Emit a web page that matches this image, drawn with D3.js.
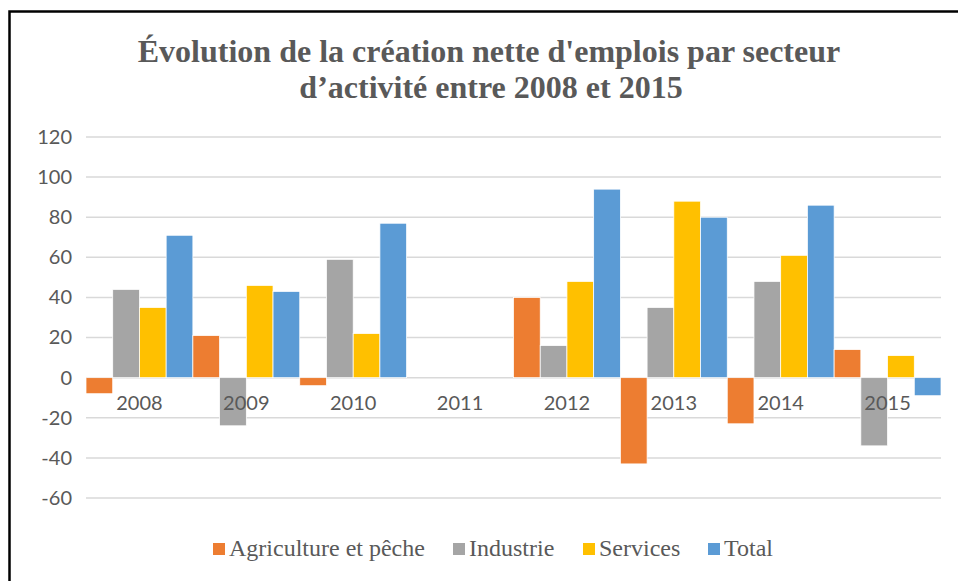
<!DOCTYPE html>
<html>
<head>
<meta charset="utf-8">
<script src="https://cdn.jsdelivr.net/npm/d3@7"></script>
<style>
    body { margin: 0; background: #fff; }
    svg { display: block; }
</style>
</head>
<body>
<script>
// chart data
const years = ["2008", "2009", "2010", "2011", "2012", "2013", "2014", "2015"];
const seriesNames = ["Agriculture et pêche", "Industrie", "Services", "Total"];
const agriculture = [-8, 21, -4, 0, 40, -43, -23, 14];
const industrie = [44, -24, 59, 0, 16, 35, 48, -34];
const services = [35, 46, 22, 0, 48, 88, 61, 11];
const total = [71, 43, 77, 0, 94, 80, 86, -9];
const yTicks = [-60, -40, -20, 0, 20, 40, 60, 80, 100, 120];
const colors = ["#ED7D31", "#A5A5A5", "#FFC000", "#5B9BD5"];

const allSeries = [agriculture, industrie, services, total];

const width = 958, height = 581;
const margin = {top: 137, right: 17, bottom: 83, left: 86};

let svg = d3.select("body").append("svg")
    .attr("width", width)
    .attr("height", height);

// frame (only top and left edges show in the crop)
svg.append("path")
    .attr("d", `M9.5,${height} V11.5 H${width}`)
    .attr("fill", "none")
    .attr("stroke", "#000")
    .attr("stroke-width", 2.5);

// title
let title = svg.append("text")
    .attr("text-anchor", "middle")
    .attr("font-family", "Liberation Serif, Times New Roman, serif")
    .attr("font-weight", "bold")
    .attr("font-size", 32)
    .attr("fill", "#595959");
title.append("tspan").attr("x", 489).attr("y", 62)
    .text("Évolution de la création nette d'emplois par secteur");
title.append("tspan").attr("x", 491).attr("y", 98)
    .text("d’activité entre 2008 et 2015");

let x0 = d3.scaleBand()
    .domain(years)
    .range([margin.left, width - margin.right])
    .paddingInner(0)
    .paddingOuter(0);

let x1 = d3.scaleBand()
    .domain(d3.range(seriesNames.length))
    .range([0, x0.bandwidth()])
    .padding(0);

// -60 sits at y≈498, 120 at y≈137
let y = d3.scaleLinear()
    .domain([-60, 120])
    .range([498, margin.top]);

// gridlines
svg.append("g")
    .selectAll("line")
    .data(yTicks)
    .join("line")
    .attr("x1", margin.left)
    .attr("x2", width - margin.right)
    .attr("y1", d => y(d))
    .attr("y2", d => y(d))
    .attr("stroke", "#d9d9d9")
    .attr("stroke-width", 1.5);

// y axis labels (plain hyphen for negatives, like the original)
let yAxis = svg.append("g")
    .attr("transform", `translate(${margin.left - 14},0)`)
    .call(d3.axisLeft(y).tickValues(yTicks).tickSize(0).tickPadding(0)
        .tickFormat(d => String(d)));
yAxis.select(".domain").remove();
yAxis.selectAll("text")
    .attr("font-family", "Lato, Carlito, Calibri, sans-serif")
    .attr("font-size", 20)
    .attr("fill", "#595959");

// bars
let groups = svg.append("g")
    .selectAll("g")
    .data(years)
    .join("g")
    .attr("transform", d => `translate(${x0(d)},0)`);

groups.selectAll("rect")
    .data((d, i) => allSeries.map((s, j) => ({j: j, value: s[i]})))
    .join("rect")
    .attr("x", d => x1(d.j))
    .attr("width", x1.bandwidth())
    .attr("y", d => y(Math.max(0, d.value)))
    .attr("height", d => Math.abs(y(d.value) - y(0)))
    .attr("fill", d => colors[d.j])
    .attr("stroke", "#fff")
    .attr("stroke-width", 0.75);

// category labels, drawn just below the zero line
let xAxis = svg.append("g")
    .attr("transform", `translate(0,${y(0)})`)
    .call(d3.axisBottom(x0).tickSize(0).tickPadding(18));
xAxis.select(".domain").remove();
xAxis.selectAll("text")
    .attr("font-family", "Lato, Carlito, Calibri, sans-serif")
    .attr("font-size", 20)
    .attr("fill", "#595959");

// legend
const legendX = [213, 453, 583, 708];
let legend = svg.append("g")
    .selectAll("g")
    .data(seriesNames)
    .join("g")
    .attr("transform", (d, i) => `translate(${legendX[i]},548)`);

legend.append("rect")
    .attr("x", 0)
    .attr("y", -5)
    .attr("width", 12)
    .attr("height", 12)
    .attr("fill", (d, i) => colors[i]);

legend.append("text")
    .attr("x", 16)
    .attr("y", 8)
    .attr("font-family", "Liberation Serif, Times New Roman, serif")
    .attr("font-size", 24)
    .attr("fill", "#595959")
    .text(d => d);
</script>
</body>
</html>
